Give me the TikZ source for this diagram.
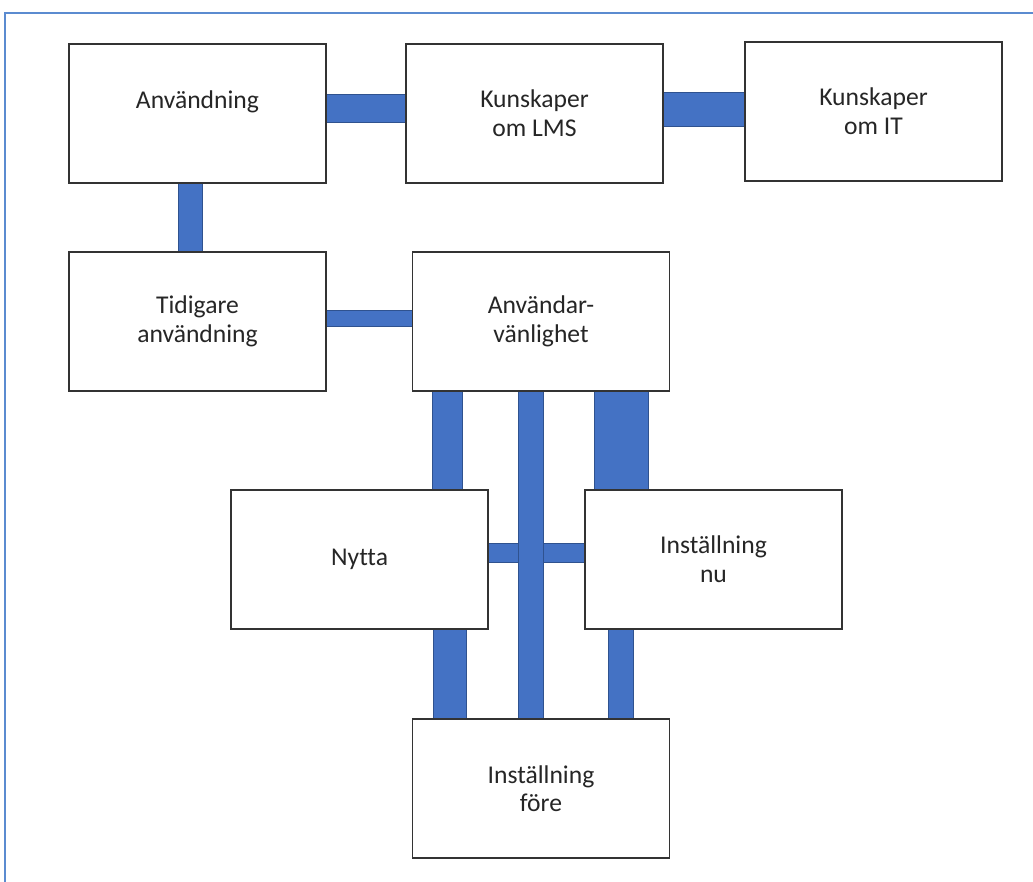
\documentclass[tikz,border=0pt]{standalone}
\usepackage{fontspec}
\setmainfont{Carlito}[Ligatures=NoCommon]
\usetikzlibrary{backgrounds}
\definecolor{barblue}{HTML}{4472C4}
\definecolor{bardark}{HTML}{2F528F}
\definecolor{framblue}{HTML}{5B8BD0}
\definecolor{boxgray}{HTML}{333333}
\tikzset{
    box/.style={draw=boxgray, line width=0.75pt, fill=white, minimum width=128.5pt, minimum height=69.5pt, inner sep=0pt, align=center, font=\fontsize{12.8}{14.3}\selectfont, text=black!85},
    bar/.style={draw=bardark, line width=0.6pt, double=barblue, double distance=#1},
    frame/.style={draw=framblue, line width=1pt}
}
\begin{document}
\begin{tikzpicture}[x=0.5pt, y=-0.5pt]
        \useasboundingbox (0,0) rectangle (1033,882);
        \draw [frame] (5,882)--(5,13)--(1033,13);

        \node [box] (anv) at (197.5,113.5) {Användning\\\mbox{}};
        \node [box] (lms) at (534.5,113.5) {Kunskaper\\om LMS};
        \node [box] (it) at (873.5,111.5) {Kunskaper\\om IT};
        \node [box] (tid) at (197.5,321.5) {Tidigare\\användning};
        \node [box] (usab) at (541,321.5) {Användar-\\vänlighet};
        \node [box] (nytta) at (359.5,559.5) {Nytta};
        \node [box] (nu) at (713.5,559.5) {Inställning\\nu};
        \node [box] (fore) at (541,788.5) {Inställning\\före};

        \begin{scope}[on background layer]
        \draw [bar=13.3pt] ([yshift=2.5pt]anv.east)--([yshift=2.5pt]lms.west); % top row
        \draw [bar=16.3pt] ([yshift=2pt]lms.east)--([yshift=2pt]lms.east -| it.west);
        \draw [bar=11.3pt] ([xshift=-3.5pt]anv.south)--([xshift=-3.5pt]tid.north);
        \draw [bar=7.3pt] ([yshift=1.5pt]tid.east)--([yshift=1.5pt]usab.west);
        \draw [bar=8.8pt] ([yshift=3.25pt]nytta.east)--([yshift=3.25pt]nu.west); % middle row
        \draw [bar=14.3pt] ([xshift=-46.75pt]usab.south)--([xshift=-46.75pt]usab.south |- nytta.north);
        \draw [bar=26.3pt] ([xshift=40.25pt]usab.south)--([xshift=40.25pt]usab.south |- nu.north);
        \draw [bar=11.8pt] ([xshift=-5pt]usab.south)--([xshift=-5pt]fore.north);
        \draw [bar=15.8pt] ([xshift=45.25pt]nytta.south)--([xshift=45.25pt]nytta.south |- fore.north); % bottom row
        \draw [bar=11.8pt] ([xshift=-46.25pt]nu.south)--([xshift=-46.25pt]nu.south |- fore.north);
        \end{scope}
    \end{tikzpicture}
\end{document}
